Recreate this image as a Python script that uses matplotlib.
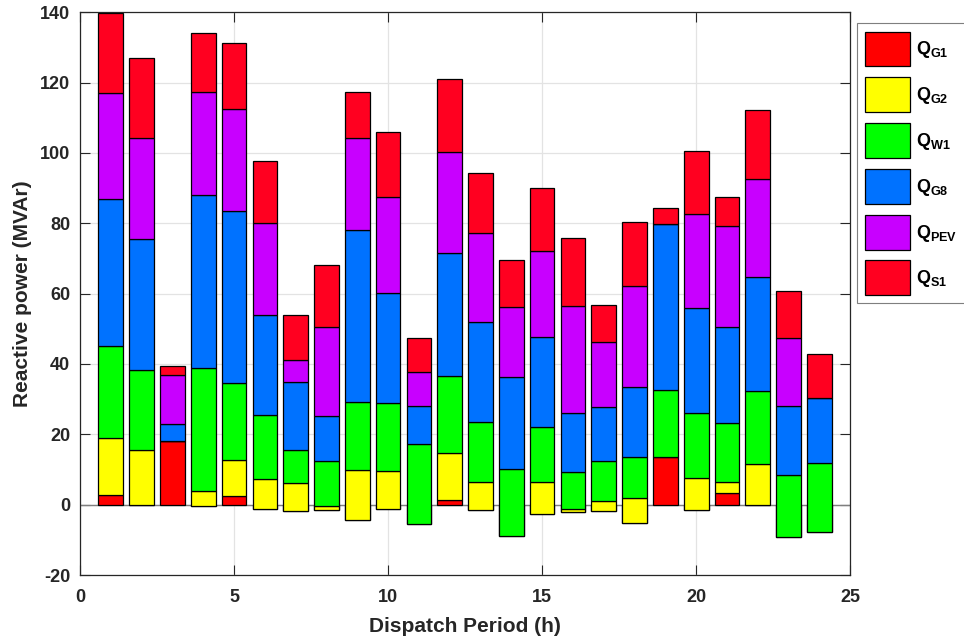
import numpy as np
import matplotlib
matplotlib.use('Agg')
import matplotlib.pyplot as plt

plt.rcParams['font.family'] = ['Liberation Sans', 'DejaVu Sans']
plt.rcParams['font.weight'] = 'bold'
plt.rcParams['axes.unicode_minus'] = False
plt.rcParams['mathtext.fontset'] = 'custom'
plt.rcParams['mathtext.rm'] = 'Liberation Sans:bold'
plt.rcParams['mathtext.bf'] = 'Liberation Sans:bold'
plt.rcParams['mathtext.it'] = 'Liberation Sans:bold'

# dispatch periods
hours = np.arange(1, 25)

# reactive power per source (MVAr), stacked cumulatively like old matlab bar(...,'stacked')
Q_G1 = [2.9, 0.0, 18.0, -0.4, 2.6, -1.2, -1.9, -1.5, -4.3, -1.2, -2.5, 1.3,
        -1.6, -3.0, -2.6, -2.1, -1.9, -5.1, 13.6, -1.4, 3.2, 0.0, -4.0, -3.0]
Q_G2 = [16.2, 15.6, 0.0, 4.3, 10.0, 8.5, 8.0, 1.0, 14.2, 10.8, -3.0, 13.5,
        8.0, -5.9, 9.0, 0.9, 2.9, 7.0, 0.0, 9.0, 3.3, 11.6, -5.1, -4.8]
Q_W1 = [26.1, 22.8, 0.0, 35.1, 21.9, 18.1, 9.5, 13.0, 19.2, 19.2, 22.9, 21.8,
        17.2, 19.1, 15.8, 10.4, 11.4, 11.8, 19.1, 18.5, 16.8, 20.7, 17.6, 19.8]
Q_G8 = [41.8, 37.0, 5.0, 48.9, 48.9, 28.4, 19.2, 12.8, 49.0, 31.4, 10.8, 35.0,
        28.3, 26.1, 25.6, 17.0, 15.5, 19.9, 47.0, 29.7, 27.1, 32.5, 19.7, 18.2]
Q_PEV = [30.0, 28.8, 14.0, 29.3, 29.1, 26.4, 6.2, 25.2, 26.1, 27.4, 9.4, 28.6,
         25.2, 19.9, 24.3, 30.3, 18.3, 28.6, 0.0, 26.8, 28.9, 27.7, 19.1, 0.0]
Q_S1 = [22.8, 22.7, 2.3, 17.0, 18.8, 17.4, 12.8, 17.7, 13.1, 18.3, 9.9, 20.7,
        17.1, 13.4, 17.9, 19.4, 10.6, 18.1, 4.6, 17.9, 8.3, 19.7, 13.4, 12.7]

series = [Q_G1, Q_G2, Q_W1, Q_G8, Q_PEV, Q_S1]
labels = [r'$\mathbf{Q}_{\mathbf{G1}}$', r'$\mathbf{Q}_{\mathbf{G2}}$',
          r'$\mathbf{Q}_{\mathbf{W1}}$', r'$\mathbf{Q}_{\mathbf{G8}}$',
          r'$\mathbf{Q}_{\mathbf{PEV}}$', r'$\mathbf{Q}_{\mathbf{S1}}$']
colors = ['#FF0000', '#FFFF00', '#00FF00', '#0072FF', '#C800FF', '#FF0020']

fig = plt.figure(figsize=(9.64, 6.39), dpi=100)
ax = fig.add_axes([0.083, 0.100, 0.799, 0.881])

txt = '#262626'
ax.grid(True, color='#e3e3e3', linewidth=0.9, zorder=0)
ax.set_axisbelow(True)
ax.axhline(0, color='#7f7f7f', linewidth=1.0, zorder=1)

bottom = np.zeros(len(hours))
handles = []
for vals, lab, col in zip(series, labels, colors):
    vals = np.array(vals)
    h = ax.bar(hours, vals, width=0.8, bottom=bottom, color=col,
               edgecolor='black', linewidth=0.9, label=lab, zorder=2)
    handles.append(h)
    bottom = bottom + vals

ax.set_xlim(0, 25)
ax.set_ylim(-20, 140)
ax.set_xticks(np.arange(0, 26, 5))
ax.set_yticks(np.arange(-20, 141, 20))
ax.tick_params(direction='in', length=7, width=0.8, top=True, right=True,
               labelsize=13, colors=txt)
ax.tick_params(axis='x', pad=10)
ax.tick_params(axis='y', pad=7)
for lbl in ax.get_xticklabels() + ax.get_yticklabels():
    lbl.set_fontweight('bold')
for sp in ax.spines.values():
    sp.set_color(txt)
    sp.set_linewidth(0.9)

ax.set_xlabel('Dispatch Period (h)', fontsize=15, fontweight='bold', color=txt, labelpad=8)
ax.set_ylabel('Reactive power (MVAr)', fontsize=15, fontweight='bold', color=txt, labelpad=6)

leg = ax.legend(handles=handles, loc='upper left', bbox_to_anchor=(1.009, 0.98),
                borderaxespad=0, fontsize=13, handlelength=2.5, handleheight=2.6,
                labelspacing=0.6, handletextpad=0.3, borderpad=0.45,
                fancybox=False, framealpha=1, edgecolor='#7f7f7f')
leg.get_frame().set_linewidth(0.8)
for t in leg.get_texts():
    t.set_color('black')

plt.savefig('out.png', dpi=100)
